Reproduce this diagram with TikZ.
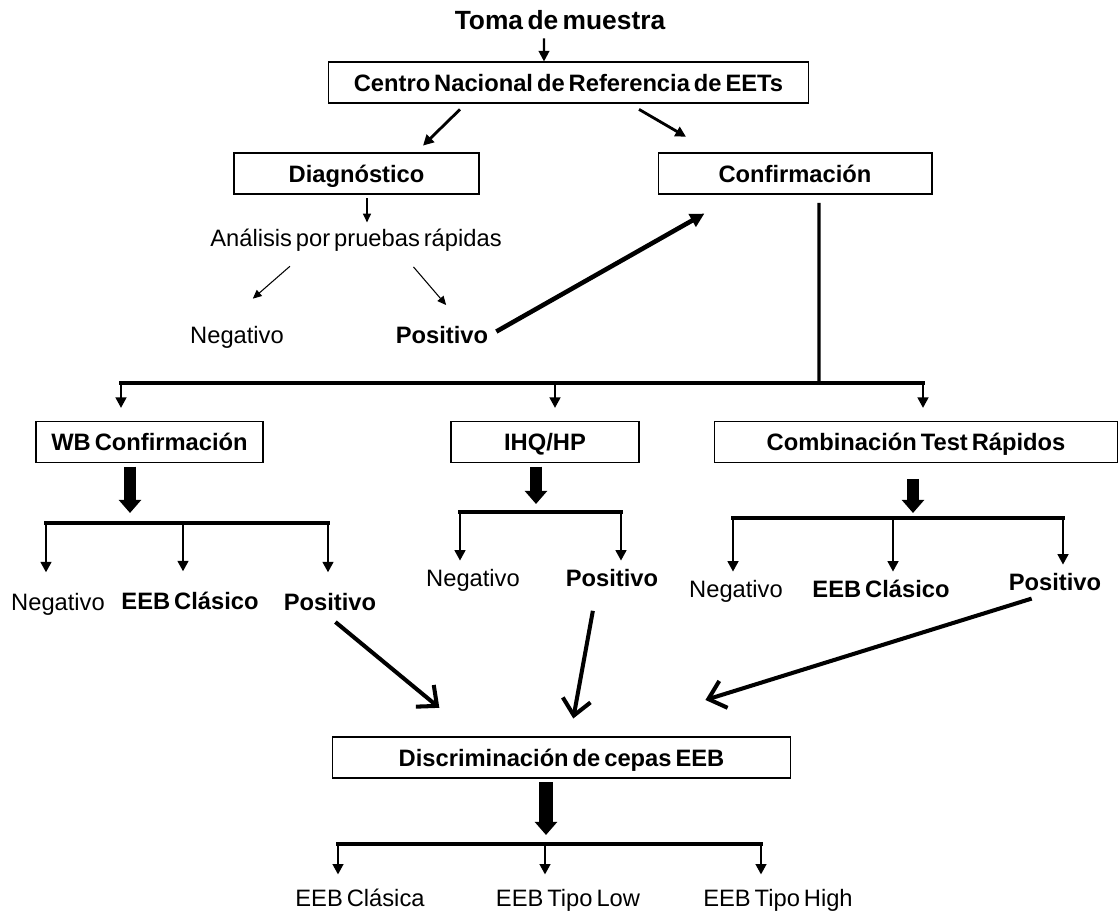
\documentclass[tikz,border=0pt]{standalone}
\usepackage{fontspec}
\setmainfont{Liberation Sans}[WordSpace=0.6]
\usepackage{tikz}
\usetikzlibrary{arrows.meta, positioning}
\tikzset{
    box/.style={rectangle, draw, line width=0.6pt, minimum height=0.82cm, inner sep=2pt, text height=12.5pt, text depth=2.8pt, text centered, font=\fontsize{13.5}{16}\selectfont\bfseries},
    result/.style={inner sep=1pt, text height=12.5pt, text depth=2.8pt, font=\fontsize{13.5}{16}\selectfont},
    bresult/.style={result, font=\fontsize{13.5}{16}\selectfont\bfseries},
    arrow/.style={-{Triangle[length=6pt,width=6pt]}, line width=1.6pt},
    slimarrow/.style={-{Triangle[length=5pt,width=4.5pt]}, line width=0.6pt},
    bigarrow/.style={-{Triangle[length=8pt,width=8pt]}, line width=2.6pt},
    barbarrow/.style={-{Straight Barb[length=9pt,width=16pt]}, line width=2.3pt},
    blockarrow/.style={-{Triangle[length=7.5pt,width=12.5pt]}, line width=6.5pt},
    branch/.style={line width=1.9pt, line cap=rect}
}
\begin{document}
\begin{tikzpicture}[x=0.02cm, y=-0.02cm]
    \useasboundingbox (0,0) rectangle (1120,915);

    % Reference centre
    \node[inner sep=1pt, text height=13.5pt, text depth=3pt, font=\fontsize{15}{18}\selectfont\bfseries] (toma) at (560,20) {Toma de muestra};
    \node[box, minimum width=9.62cm] (cnr) at (568.5,82.5) {Centro Nacional de Referencia de EETs};
    \node[box, minimum width=4.9cm] (diag) at (356.5,173.5) {Diagnóstico};
    \node[box, minimum width=5.48cm] (conf) at (795,173.5) {Confirmación};

    % Diagnostic
    \node[result] (ana) at (356,238) {Análisis por pruebas rápidas};
    \node[result] (neg1) at (237,335) {Negativo};
    \node[bresult] (pos1) at (442,335) {Positivo};

    % Confirmation methods
    \node[box, minimum width=4.54cm] (wb) at (149.5,442) {WB Confirmación};
    \node[box, minimum width=3.76cm] (ihq) at (545,442) {IHQ/HP};
    \node[box, minimum width=8.08cm] (comb) at (916,442) {Combinación Test Rápidos};

    % Results
    \node[result] (negA) at (58,602) {Negativo};
    \node[bresult] (clasA) at (190,601) {EEB Clásico};
    \node[bresult] (posA) at (330,602) {Positivo};
    \node[result] (negB) at (473,578) {Negativo};
    \node[bresult] (posB) at (612,578) {Positivo};
    \node[result] (negC) at (736,589) {Negativo};
    \node[bresult] (clasC) at (881,589) {EEB Clásico};
    \node[bresult] (posC) at (1055,582) {Positivo};

    % Strains
    \node[box, minimum width=9.18cm] (disc) at (561.5,757.5) {Discriminación de cepas EEB};
    \node[result] (out1) at (360,898) {EEB Clásica};
    \node[result] (out2) at (568,898) {EEB Tipo Low};
    \node[result] (out3) at (778,898) {EEB Tipo High};

    % Top connections
    \draw[arrow, line width=1.2pt, shorten <=1pt] ([xshift=-0.32cm]toma.south) -- ([xshift=-0.49cm]cnr.north);
    \draw[arrow, shorten <=4.8pt, shorten >=5.6pt] ([xshift=-2.05cm]cnr.south) -- ([xshift=1.19cm]diag.north);
    \draw[arrow, shorten <=6.6pt, shorten >=17.8pt] ([xshift=1.21cm]cnr.south) -- ([xshift=-1.64cm]conf.north);

    % Diagnostic connections
    \draw[slimarrow, line width=0.9pt, shorten <=2pt] ([xshift=0.21cm]diag.south) -- ([xshift=0.22cm]ana.north);
    \draw[slimarrow, shorten <=11pt, shorten >=18pt] ([xshift=-1.03cm]ana.south) -- ([xshift=-0.16cm]neg1.north);
    \draw[slimarrow, shorten <=10pt, shorten >=10.8pt] ([xshift=0.92cm]ana.south) -- ([xshift=0.33cm]pos1.north);
    \draw[bigarrow, shorten <=4pt, shorten >=22pt] (pos1.east) -- ([xshift=-1.14cm]conf.south);

    % Confirmation split
    \coordinate (splitC) at (819,383);
    \coordinate (splitL) at (121,383);
    \coordinate (splitM) at (555,383);
    \coordinate (splitR) at (923,383);
    \draw[branch, shorten <=5.7pt] ([xshift=0.48cm]conf.south) -- (splitC);
    \draw[branch] (splitL) -- (splitR);
    \foreach \c/\b in {splitL/wb, splitM/ihq, splitR/comb}
        \draw[arrow, shorten >=7.4pt] (\c) -- (\c |- \b.north);

    % WB results
    \coordinate (wbTip) at (130,513);
    \coordinate (wbL) at (46,523);
    \coordinate (wbM) at (183,523);
    \coordinate (wbR) at (328,523);
    \draw[blockarrow, shorten <=2pt] (wb.south -| wbTip) -- (wbTip);
    \draw[branch] (wbL) -- (wbR);
    \foreach \c/\n in {wbL/negA, wbM/clasA, wbR/posA}
        \draw[arrow, shorten >=8pt] (\c) -- (\c |- \n.north);

    % IHQ results
    \coordinate (ihqTip) at (536,504);
    \coordinate (ihqL) at (460,512);
    \coordinate (ihqR) at (621,512);
    \draw[blockarrow, shorten <=2pt] (ihq.south -| ihqTip) -- (ihqTip);
    \draw[branch] (ihqL) -- (ihqR);
    \foreach \c/\n in {ihqL/negB, ihqR/posB}
        \draw[arrow, shorten >=1pt] (\c) -- (\c |- \n.north);

    % Combination results
    \coordinate (combTip) at (913,513);
    \coordinate (combL) at (733,518);
    \coordinate (combM) at (893,518);
    \coordinate (combR) at (1063,518);
    \draw[blockarrow, shorten <=9pt] (comb.south -| combTip) -- (combTip);
    \draw[branch] (combL) -- (combR);
    \foreach \c/\n in {combL/negC, combM/clasC, combR/posC}
        \draw[arrow, shorten >=1pt] (\c) -- (\c |- \n.north);

    % Positives to discrimination
    \draw[barbarrow, shorten <=4pt, shorten >=25.6pt] (posA.south) -- ([xshift=-1.75cm]disc.north);
    \draw[barbarrow, shorten <=10pt, shorten >=10.4pt] ([xshift=-0.32cm]posB.south) -- ([xshift=0.17cm]disc.north);
    \draw[barbarrow, shorten <=2pt, shorten >=70pt] ([xshift=-0.4cm]posC.south) -- ([xshift=0.53cm]disc.north);

    % Strain types
    \coordinate (discTip) at (546,835);
    \coordinate (discL) at (338,844);
    \coordinate (discM) at (545,844);
    \coordinate (discR) at (761,844);
    \draw[blockarrow, line width=8pt, shorten <=2pt] (disc.south -| discTip) -- (discTip);
    \draw[branch] (discL) -- (discR);
    \foreach \c/\n in {discL/out1, discM/out2, discR/out3}
        \draw[arrow, shorten >=4.5pt] (\c) -- (\c |- \n.north);
\end{tikzpicture}
\end{document}
